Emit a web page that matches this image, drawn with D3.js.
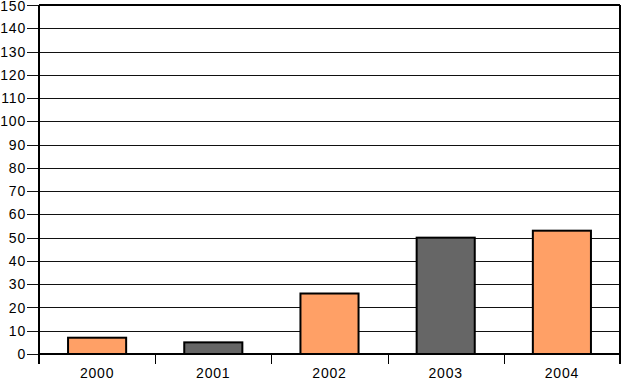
<!DOCTYPE html>
<html>
<head>
<meta charset="utf-8">
<style>
  body { margin: 0; background: #fff; }
  svg text { font-family: "Liberation Sans", Arial, sans-serif; font-size: 14px; letter-spacing: 0.8px; fill: #000; }
</style>
</head>
<body>
<svg id="chart" width="623" height="382"></svg>
<script src="https://d3js.org/d3.v7.min.js"></script>
<script>
var years = ["2000", "2001", "2002", "2003", "2004"];
var values = [7, 5, 26, 50, 53];
var barColors = ["#ffa066", "#666666", "#ffa066", "#666666", "#ffa066"];
var yTicks = [0, 10, 20, 30, 40, 50, 60, 70, 80, 90, 100, 110, 120, 130, 140, 150];

var pl = 39, pr = 620, pt = 5, pb = 354;
var svg = d3.select("#chart");

var x = d3.scaleBand().domain(years).range([pl, pr]).paddingInner(0.5).paddingOuter(0.25);
var xb = d3.scaleBand().domain(years).range([pl, pr]);
var y = d3.scaleLinear().domain([0, 150]).range([pb, pt]);

// gridlines
svg.append("g").selectAll("line").data(yTicks).join("line")
  .attr("x1", pl - 12).attr("x2", pr)
  .attr("y1", function(d){ return Math.round(y(d)) + 0.5; })
  .attr("y2", function(d){ return Math.round(y(d)) + 0.5; })
  .attr("stroke", "#111").attr("stroke-width", 1);

// y labels
svg.append("g").selectAll("text").data(yTicks).join("text")
  .attr("x", 26).attr("y", function(d){ return Math.max(y(d), 6); })
  .attr("dy", "0.36em").attr("text-anchor", "end")
  .text(function(d){ return d; });

// bars
svg.append("g").selectAll("rect").data(years).join("rect")
  .attr("x", function(d){ return x(d); })
  .attr("width", x.bandwidth())
  .attr("y", function(d, i){ return y(values[i]); })
  .attr("height", function(d, i){ return pb - y(values[i]); })
  .attr("fill", function(d, i){ return barColors[i]; })
  .attr("stroke", "#000").attr("stroke-width", 2);

// frame
svg.append("line").attr("x1", pl).attr("x2", pl).attr("y1", pt).attr("y2", pb + 10)
  .attr("stroke", "#000").attr("stroke-width", 2);
svg.append("line").attr("x1", pr).attr("x2", pr).attr("y1", pt).attr("y2", pb + 10)
  .attr("stroke", "#000").attr("stroke-width", 2);
svg.append("line").attr("x1", pl).attr("x2", pr).attr("y1", pt).attr("y2", pt)
  .attr("stroke", "#000").attr("stroke-width", 2);
svg.append("line").attr("x1", pl).attr("x2", pr).attr("y1", pb).attr("y2", pb)
  .attr("stroke", "#000").attr("stroke-width", 2);

// x category boundary ticks
svg.append("g").selectAll("line").data(years.slice(1)).join("line")
  .attr("x1", function(d){ return Math.round(xb(d)) + 0.5; })
  .attr("x2", function(d){ return Math.round(xb(d)) + 0.5; })
  .attr("y1", pb).attr("y2", pb + 10)
  .attr("stroke", "#000").attr("stroke-width", 1);

// x labels
svg.append("g").selectAll("text").data(years).join("text")
  .attr("x", function(d){ return xb(d) + xb.bandwidth() / 2; })
  .attr("y", 378).attr("text-anchor", "middle")
  .text(function(d){ return d; });
</script>
</body>
</html>
